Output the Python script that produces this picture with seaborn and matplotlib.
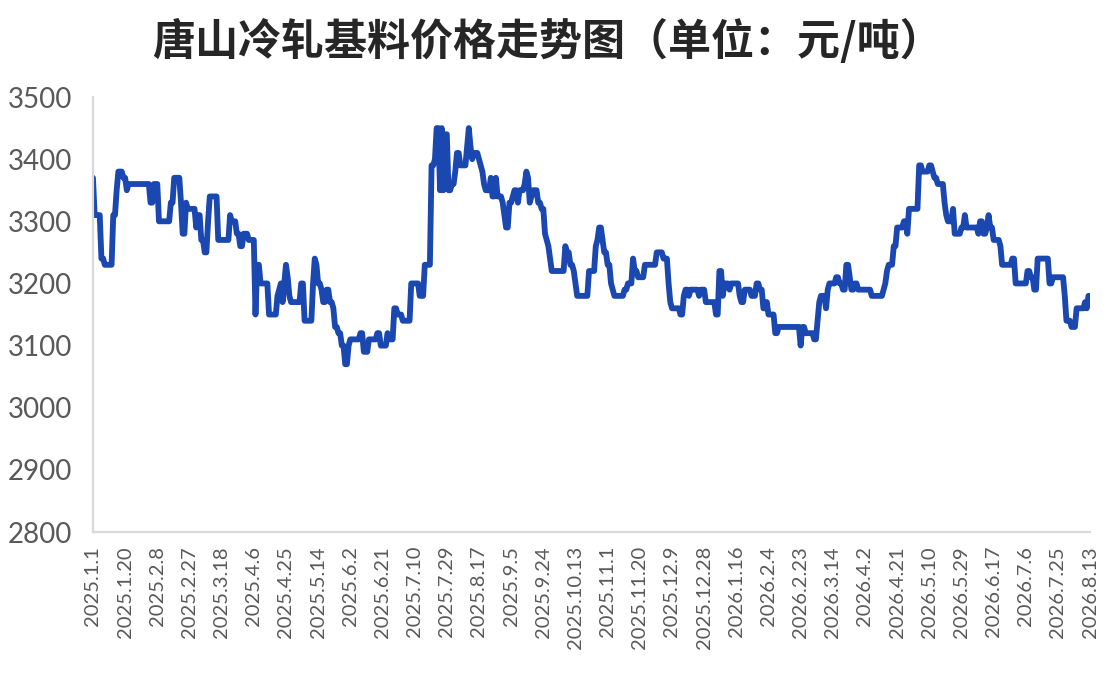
import numpy as np
import pandas as pd
import matplotlib.pyplot as plt
import seaborn as sns

start_date = "2025-01-01"
n_days = 590

# day offset (from 2025.1.1) where the price changes, and the price from then on
change_day = [0, 1, 5, 7, 12, 14, 15, 18, 20, 21, 34, 36, 39, 46, 48, 52, 53, 55, 56, 61,
              62, 64, 66, 68, 69, 74, 81, 82, 85, 87, 89, 92, 96, 97, 99, 104, 109, 110, 111, 112,
              113, 114, 115, 116, 117, 123, 125, 130, 131, 132, 133, 135, 136, 138, 140, 142, 143, 145, 147, 149,
              151, 152, 158, 160, 163, 168, 170, 174, 175, 178, 180, 183, 188, 193, 196, 200, 202, 203, 205, 206,
              207, 208, 210, 212, 214, 215, 217, 221, 222, 223, 224, 225, 228, 229, 230, 231, 232, 235, 236, 238,
              239, 242, 243, 244, 246, 248, 249, 251, 252, 255, 256, 257, 258, 259, 260, 263, 265, 267, 268, 269,
              270, 271, 279, 280, 282, 284, 285, 286, 293, 297, 298, 299, 301, 302, 304, 306, 307, 308, 314, 316,
              319, 320, 322, 326, 333, 337, 340, 341, 342, 347, 349, 350, 352, 353, 358, 359, 362, 368, 370, 372,
              373, 376, 377, 382, 383, 385, 389, 392, 394, 396, 398, 399, 403, 405, 418, 419, 421, 426, 428, 429,
              430, 433, 434, 435, 439, 441, 443, 445, 447, 448, 450, 452, 460, 467, 468, 469, 470, 473, 475, 479,
              481, 482, 488, 490, 494, 496, 497, 499, 503, 504, 505, 508, 509, 513, 515, 516, 523, 524, 526, 528,
              529, 530, 532, 536, 537, 543, 545, 552, 554, 556, 558, 565, 567, 574, 575, 578, 581, 586, 587, 588]
price = [3370, 3310, 3240, 3230, 3310, 3350, 3380, 3370, 3350, 3360, 3330, 3360, 3300, 3330, 3370, 3330, 3280, 3330, 3320, 3290,
         3310, 3270, 3250, 3300, 3340, 3270, 3310, 3300, 3280, 3260, 3280, 3270, 3150, 3230, 3200, 3150, 3180, 3190, 3200, 3170,
         3200, 3230, 3210, 3180, 3170, 3200, 3140, 3200, 3240, 3230, 3200, 3190, 3170, 3190, 3170, 3160, 3130, 3120, 3100, 3070,
         3100, 3110, 3120, 3090, 3110, 3120, 3100, 3120, 3110, 3160, 3150, 3140, 3200, 3180, 3230, 3390, 3400, 3450, 3350, 3450,
         3350, 3440, 3350, 3360, 3380, 3410, 3390, 3420, 3450, 3420, 3400, 3410, 3400, 3390, 3380, 3360, 3350, 3370, 3340, 3370,
         3340, 3330, 3310, 3290, 3330, 3340, 3350, 3330, 3350, 3360, 3380, 3370, 3330, 3340, 3350, 3330, 3320, 3280, 3270, 3260,
         3240, 3220, 3260, 3250, 3230, 3220, 3200, 3180, 3220, 3260, 3270, 3290, 3270, 3250, 3230, 3200, 3190, 3180, 3190, 3200,
         3240, 3220, 3210, 3230, 3250, 3240, 3200, 3170, 3160, 3150, 3180, 3190, 3180, 3190, 3180, 3190, 3170, 3150, 3220, 3180,
         3200, 3190, 3200, 3180, 3170, 3190, 3180, 3200, 3190, 3160, 3170, 3150, 3120, 3130, 3100, 3130, 3120, 3110, 3140, 3170,
         3180, 3160, 3190, 3200, 3210, 3200, 3190, 3230, 3210, 3190, 3200, 3190, 3180, 3190, 3200, 3220, 3230, 3260, 3290, 3300,
         3280, 3320, 3390, 3380, 3390, 3380, 3370, 3360, 3330, 3310, 3300, 3320, 3280, 3290, 3310, 3290, 3280, 3300, 3280, 3290,
         3310, 3290, 3270, 3260, 3230, 3240, 3200, 3220, 3210, 3190, 3240, 3200, 3210, 3180, 3140, 3130, 3160, 3170, 3160, 3180]
assert len(change_day) == len(price)

title = "唐山冷轧基料价格走势图（单位：元/吨）"

runs = np.diff(change_day + [n_days])
dates = pd.date_range(start_date, periods=n_days, freq="D")
df = pd.DataFrame({"date": dates, "price": np.repeat(price, runs)})

sns.set_style("white")
plt.rcParams["font.family"] = ["Lato", "Noto Sans CJK SC", "DejaVu Sans"]

fig = plt.figure(figsize=(11.08, 6.98), dpi=100)
ax = fig.add_axes([0.0839, 0.2378, 0.9, 0.6232])

sns.lineplot(data=df, x="date", y="price", ax=ax, color="#1A47B0", linewidth=4.2)

ax.set_xlim(dates[0], dates[-1])
ax.set_ylim(2800, 3500)
ax.set_yticks(range(2800, 3501, 100))
ax.set_xticks(dates[::19])
ax.set_xticklabels([f"{d.year}.{d.month}.{d.day}" for d in dates[::19]], rotation=90)
ax.set_xticks(dates[::4], minor=True)
ax.set_xlabel("")
ax.set_ylabel("")

for side in ["top", "right"]:
    ax.spines[side].set_visible(False)
for side in ["left", "bottom"]:
    ax.spines[side].set_color("#D9D9D9")
    ax.spines[side].set_linewidth(1.6)

ax.tick_params(axis="y", length=0, labelsize=20, labelcolor="#595959", pad=15)
ax.tick_params(axis="x", which="both", direction="out", length=6, width=1.2,
               color="#D9D9D9", labelsize=14.5, labelcolor="#595959", pad=4)

fig.text(0.494, 0.94, title, ha="center", va="center", fontsize=31, fontweight="bold",
         color="#262626", family=["Noto Sans CJK SC", "DejaVu Sans"])

fig.savefig("out.png", dpi=100)
